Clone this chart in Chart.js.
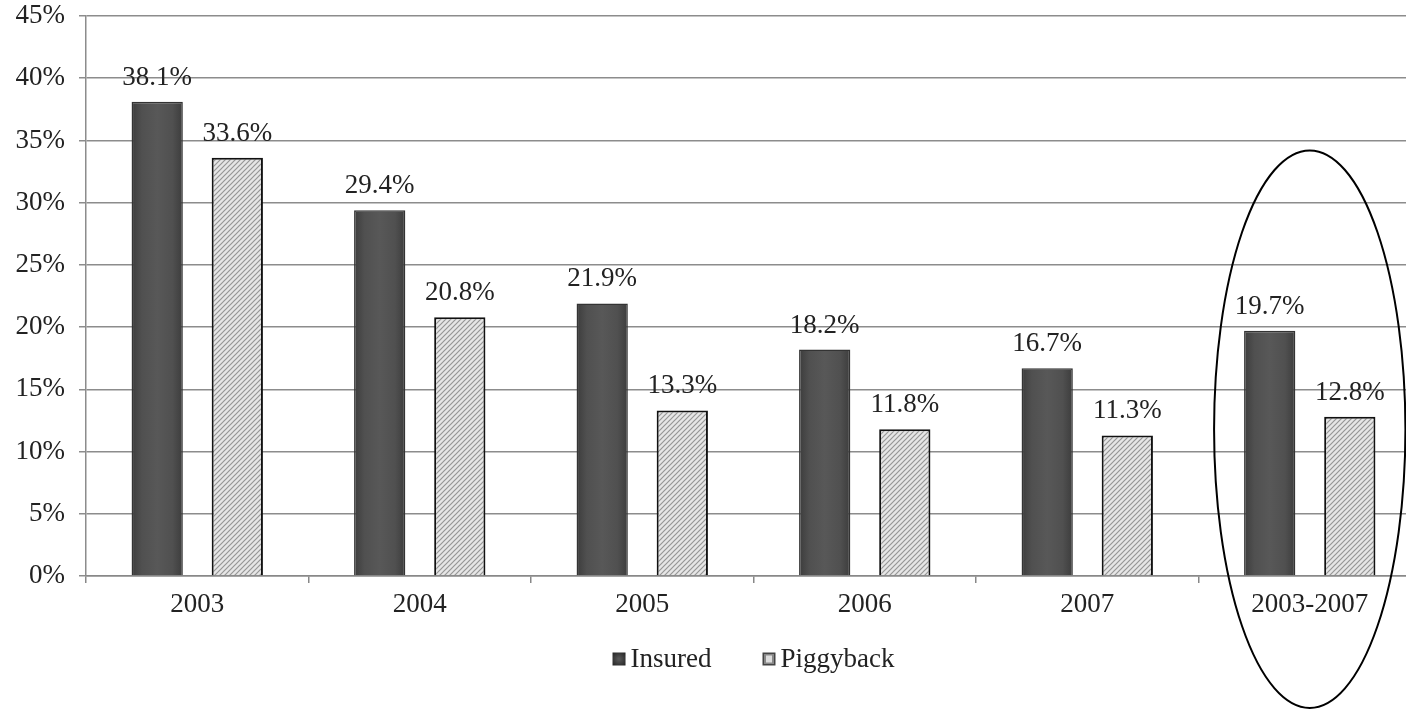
<!DOCTYPE html>
<html>
<head>
<meta charset="utf-8">
<script src="https://cdn.jsdelivr.net/npm/chart.js@4.4.1/dist/chart.umd.min.js"></script>
<style>
  html, body { margin: 0; padding: 0; background: #fff; overflow: hidden; }
  #wrap { width: 1421px; height: 709px; }
</style>
</head>
<body>
<div id="wrap"><canvas id="c" width="1421" height="709"></canvas></div>
<script>
// Share of loans by year, insured vs piggyback
const categories = ['2003', '2004', '2005', '2006', '2007', '2003-2007'];
const insured    = [38.1, 29.4, 21.9, 18.2, 16.7, 19.7];
const piggyback  = [33.6, 20.8, 13.3, 11.8, 11.3, 12.8];
const yTicks     = [0, 5, 10, 15, 20, 25, 30, 35, 40, 45];
const seriesNames = ['Insured', 'Piggyback'];

const FONT = '"Liberation Serif", "Times New Roman", serif';
const FONT_SIZE = 27;

// diagonal hatch fill for the piggyback bars
function hatch(ctx) {
  const s = 5;
  const p = document.createElement('canvas');
  p.width = s; p.height = s;
  const g = p.getContext('2d');
  g.fillStyle = '#e6e6e6';
  g.fillRect(0, 0, s, s);
  g.strokeStyle = '#969696';
  g.lineWidth = 1.2;
  g.beginPath();
  g.moveTo(0, s); g.lineTo(s, 0);
  g.moveTo(-1, 1); g.lineTo(1, -1);
  g.moveTo(s - 1, s + 1); g.lineTo(s + 1, s - 1);
  g.stroke();
  return ctx.createPattern(p, 'repeat');
}

// dark bars get a soft horizontal shading, darker at the edges
const barShading = {
  id: 'barShading',
  beforeDatasetsDraw(chart) {
    const ctx = chart.ctx;
    chart.getDatasetMeta(0).data.forEach(bar => {
      const half = bar.width / 2;
      const gr = ctx.createLinearGradient(bar.x - half, 0, bar.x + half, 0);
      gr.addColorStop(0, '#3c3c3c');
      gr.addColorStop(0.2, '#505050');
      gr.addColorStop(0.5, '#585858');
      gr.addColorStop(0.8, '#505050');
      gr.addColorStop(1, '#3c3c3c');
      bar.options = Object.assign({}, bar.options, { backgroundColor: gr });
    });
  }
};

// value labels above each bar
const valueLabels = {
  id: 'valueLabels',
  afterDatasetsDraw(chart) {
    const ctx = chart.ctx;
    ctx.save();
    ctx.font = FONT_SIZE + 'px ' + FONT;
    ctx.fillStyle = '#222';
    ctx.textAlign = 'center';
    ctx.textBaseline = 'alphabetic';
    chart.data.datasets.forEach((ds, i) => {
      chart.getDatasetMeta(i).data.forEach((bar, j) => {
        ctx.fillText(ds.data[j].toFixed(1) + '%', bar.x, bar.y - 17);
      });
    });
    ctx.restore();
  }
};

// legend row under the axis: small square swatches, tight to their text
const legendRow = {
  id: 'legendRow',
  afterDraw(chart) {
    const ctx = chart.ctx;
    const area = chart.chartArea;
    const box = 13, gap = 5, itemGap = 51;
    ctx.save();
    ctx.font = FONT_SIZE + 'px ' + FONT;
    const widths = seriesNames.map(n => box + gap + ctx.measureText(n).width);
    const total = widths.reduce((a, b) => a + b, 0) + itemGap * (widths.length - 1);
    let x = (area.left + area.right) / 2 - total / 2;
    const cy = area.bottom + 83;
    seriesNames.forEach((name, i) => {
      const by = cy - box / 2;
      if (i === 0) {
        const gr = ctx.createRadialGradient(x + box / 2, by + box / 2, 1, x + box / 2, by + box / 2, box * 0.7);
        gr.addColorStop(0, '#555');
        gr.addColorStop(1, '#222');
        ctx.fillStyle = gr;
        ctx.fillRect(x, by, box, box);
      } else {
        ctx.fillStyle = '#444';
        ctx.fillRect(x, by, box, box);
        ctx.fillStyle = '#888';
        ctx.fillRect(x + 1.5, by + 1.5, box - 3, box - 3);
        ctx.fillStyle = '#ddd';
        ctx.fillRect(x + 3.5, by + 3, box - 7, box - 6);
      }
      ctx.fillStyle = '#222';
      ctx.textAlign = 'left';
      ctx.textBaseline = 'middle';
      ctx.fillText(name, x + box + gap, cy + 1);
      x += widths[i] + itemGap;
    });
    ctx.restore();
  }
};

// ellipse highlighting the whole-period group
const highlight = {
  id: 'highlight',
  afterDraw(chart) {
    const x = chart.scales.x, y = chart.scales.y;
    const idx = categories.length - 1;
    const cx = x.getPixelForValue(idx);
    const rx = x.width / categories.length * 0.43;
    const top = y.getPixelForValue(34.2);
    const bottom = y.getPixelForValue(-10.6);
    const ctx = chart.ctx;
    ctx.save();
    ctx.strokeStyle = '#000';
    ctx.lineWidth = 2;
    ctx.beginPath();
    ctx.ellipse(cx, (top + bottom) / 2, rx, (bottom - top) / 2, 0, 0, Math.PI * 2);
    ctx.stroke();
    ctx.restore();
  }
};

const ctx = document.getElementById('c').getContext('2d');
new Chart(ctx, {
  type: 'bar',
  data: {
    labels: categories,
    datasets: [
      {
        label: seriesNames[0],
        data: insured,
        backgroundColor: '#4b4b4b',
        borderColor: '#333',
        borderWidth: 1.5,
        categoryPercentage: 0.72,
        barPercentage: 0.64
      },
      {
        label: seriesNames[1],
        data: piggyback,
        backgroundColor: hatch(ctx),
        borderColor: '#111',
        borderWidth: 2,
        categoryPercentage: 0.72,
        barPercentage: 0.64
      }
    ]
  },
  options: {
    responsive: false,
    devicePixelRatio: 1,
    animation: false,
    layout: { padding: { top: 16, right: 0, left: 0, bottom: 71 } },
    scales: {
      x: {
        offset: true,
        grid: {
          offset: true,
          drawOnChartArea: false,
          drawTicks: true,
          tickLength: 7,
          color: '#888',
          lineWidth: 1.5
        },
        border: { display: true, color: '#888', width: 1.5 },
        ticks: {
          font: { family: FONT, size: FONT_SIZE },
          color: '#222',
          padding: 6
        },
        afterFit(scale) { scale.height = 62; }
      },
      y: {
        min: 0,
        max: 45,
        afterBuildTicks(scale) { scale.ticks = yTicks.map(v => ({ value: v })); },
        grid: {
          color: '#8c8c8c',
          lineWidth: 1.5,
          drawTicks: true,
          tickLength: 7
        },
        border: { display: true, color: '#8c8c8c', width: 1.5 },
        ticks: {
          font: { family: FONT, size: FONT_SIZE },
          color: '#222',
          padding: 14,
          callback: v => v + '%'
        },
        afterFit(scale) {
          scale.width = 86;
          scale.paddingTop = 0;
          scale.paddingBottom = 0;
        }
      }
    },
    plugins: {
      legend: { display: false },
      tooltip: { enabled: false }
    }
  },
  plugins: [barShading, valueLabels, legendRow, highlight]
});
</script>
</body>
</html>
